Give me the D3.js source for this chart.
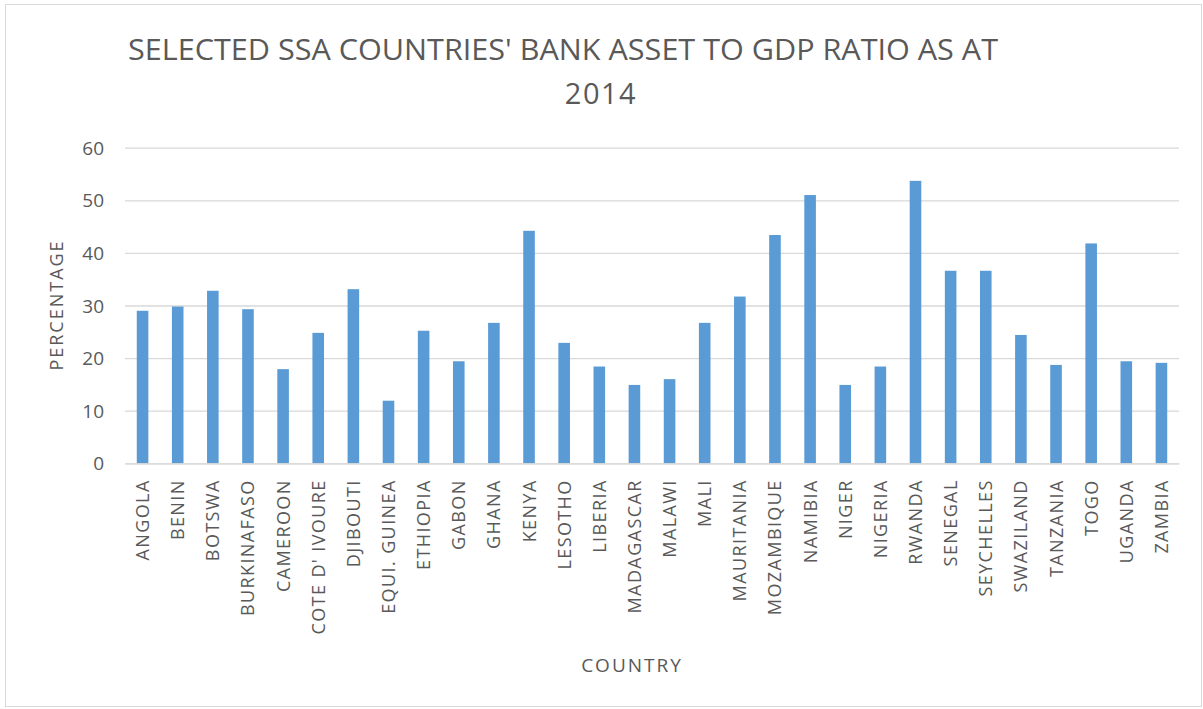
<!DOCTYPE html>
<html>
<head>
<meta charset="utf-8">
<script src="https://cdn.jsdelivr.net/npm/d3@7"></script>
<style>
  html, body { margin: 0; padding: 0; background: #ffffff; }
  svg { display: block; }
</style>
</head>
<body>
<svg id="chart" width="1203" height="709"></svg>
<script>
const countries = ["ANGOLA","BENIN","BOTSWA","BURKINAFASO","CAMEROON","COTE D' IVOURE","DJIBOUTI","EQUI. GUINEA","ETHIOPIA","GABON","GHANA","KENYA","LESOTHO","LIBERIA","MADAGASCAR","MALAWI","MALI","MAURITANIA","MOZAMBIQUE","NAMIBIA","NIGER","NIGERIA","RWANDA","SENEGAL","SEYCHELLES","SWAZILAND","TANZANIA","TOGO","UGANDA","ZAMBIA"];
const values = [29.0, 29.8, 32.8, 29.3, 17.9, 24.8, 33.1, 11.9, 25.2, 19.4, 26.7, 44.2, 22.9, 18.4, 14.9, 16.0, 26.7, 31.7, 43.4, 51.0, 14.9, 18.4, 53.7, 36.6, 36.6, 24.4, 18.7, 41.8, 19.4, 19.1];
const yTicks = [0, 10, 20, 30, 40, 50, 60];
const titleLines = ["SELECTED SSA COUNTRIES' BANK ASSET TO GDP RATIO AS AT", "2014"];
const yTitle = "PERCENTAGE";
const xTitle = "COUNTRY";

const data = countries.map((c, i) => ({ country: c, value: values[i] }));

const svg = d3.select("#chart");
const textColor = "#595959";
const gridColor = "#d9d9d9";
const barColor = "#5b9bd5";
const font = "'Open Sans', 'Liberation Sans', sans-serif";

// chart border
svg.append("rect")
  .attr("x", 5.5).attr("y", 4.5).attr("width", 1196).attr("height", 702)
  .attr("fill", "#ffffff").attr("stroke", "#d9d9d9").attr("stroke-width", 1);

const plotLeft = 125, plotRight = 1179, plotTop = 147.7, plotBottom = 463.3;

const x = d3.scaleBand()
  .domain(countries)
  .range([plotLeft, plotRight])
  .paddingInner(0.67)
  .paddingOuter(0.335);

const y = d3.scaleLinear().domain([0, 60]).range([plotBottom, plotTop]);

// gridlines + y labels
const yAxis = d3.axisLeft(y).tickValues(yTicks).tickSize(-(plotRight - plotLeft)).tickPadding(20);
const gy = svg.append("g")
  .attr("transform", `translate(${plotLeft},0)`)
  .call(yAxis);
gy.select(".domain").remove();
gy.selectAll(".tick line").attr("stroke", gridColor).attr("stroke-width", 1.3);
gy.selectAll(".tick text")
  .attr("fill", textColor)
  .attr("font-family", font)
  .attr("font-size", "19px")
  .attr("x", 104 - plotLeft)
  .attr("dy", "0.35em");

// bars
svg.append("g").selectAll("rect")
  .data(data)
  .join("rect")
  .attr("x", d => x(d.country))
  .attr("width", x.bandwidth())
  .attr("y", d => y(d.value))
  .attr("height", d => y(0) - y(d.value))
  .attr("fill", barColor);

// x axis
const xAxis = d3.axisBottom(x).tickSize(0).tickPadding(0);
const gx = svg.append("g")
  .attr("transform", `translate(0,${plotBottom})`)
  .call(xAxis);
gx.select(".domain").attr("stroke", gridColor).attr("stroke-width", 1.3);
gx.selectAll(".tick text")
  .attr("fill", textColor)
  .attr("font-family", font)
  .attr("font-size", "18px")
  .attr("letter-spacing", "1.4px")
  .attr("text-anchor", "end")
  .attr("transform", "rotate(-90)")
  .attr("x", -16)
  .attr("y", 0)
  .attr("dy", "0.36em");

// titles
const title = svg.append("g");
title.append("text")
  .attr("x", 563).attr("y", 60)
  .attr("text-anchor", "middle")
  .attr("fill", textColor)
  .attr("font-family", font)
  .attr("font-size", "29px")
  .attr("textLength", 870)
  .attr("lengthAdjust", "spacingAndGlyphs")
  .text(titleLines[0]);
title.append("text")
  .attr("x", 601).attr("y", 104)
  .attr("text-anchor", "middle")
  .attr("fill", textColor)
  .attr("font-family", font)
  .attr("font-size", "29px")
  .attr("letter-spacing", "1.5px")
  .text(titleLines[1]);

svg.append("text")
  .attr("transform", "translate(63,305) rotate(-90)")
  .attr("text-anchor", "middle")
  .attr("fill", textColor)
  .attr("font-family", font)
  .attr("font-size", "18px")
  .attr("letter-spacing", "2px")
  .text(yTitle);

svg.append("text")
  .attr("x", 632).attr("y", 672)
  .attr("text-anchor", "middle")
  .attr("fill", textColor)
  .attr("font-family", font)
  .attr("font-size", "19px")
  .attr("letter-spacing", "2px")
  .text(xTitle);
</script>
</body>
</html>
